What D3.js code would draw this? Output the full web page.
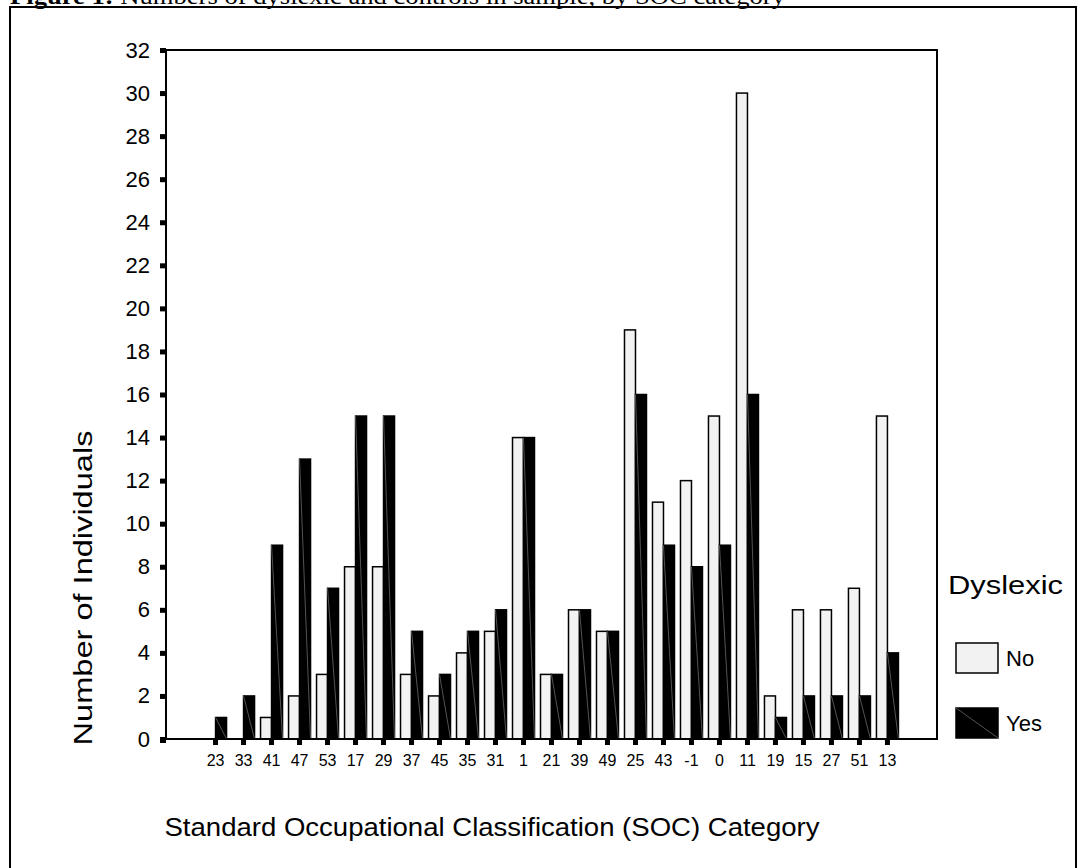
<!DOCTYPE html>
<meta charset="utf-8">
<style>
  body { margin: 0; background: #fff; }
  text { font-family: Arial, "Liberation Sans", sans-serif; fill: #000; }
</style>
<script src="https://d3js.org/d3.v7.min.js"></script>
<div id="my_dataviz"></div>
<script>
// data
var categories = ["23","33","41","47","53","17","29","37","45","35","31","1","21","39","49","25","43","-1","0","11","19","15","27","51","13"];
var noCounts  = [0,0,1,2,3,8,8,3,2,4,5,14,3,6,5,19,11,12,15,30,2,6,6,7,15];
var yesCounts = [1,2,9,13,7,15,15,5,3,5,6,14,3,6,5,16,9,8,9,16,1,2,2,2,4];
var yTicks = d3.range(0, 33, 2);
var seriesNames = ["No", "Yes"];

var W = 1080, H = 868;
var margin = {top: 50, left: 166},
    width = 771,
    height = 689;

var svg = d3.select("#my_dataviz").append("svg")
    .attr("width", W).attr("height", H);

// outer frame + clipped title
svg.append("rect")
    .attr("x", 10).attr("y", 7).attr("width", 1066).attr("height", 880)
    .attr("fill", "none").attr("stroke", "#000").attr("stroke-width", 2);

var title = svg.append("text")
    .attr("x", 10).attr("y", 4)
    .attr("textLength", 775).attr("lengthAdjust", "spacingAndGlyphs")
    .style("font-family", "'Liberation Serif', 'Times New Roman', serif")
    .style("font-size", "24px");
title.append("tspan").style("font-weight", "bold").text("Figure 1:");
title.append("tspan").text(" Numbers of dyslexic and controls in sample, by SOC category");

var g = svg.append("g")
    .attr("transform", "translate(" + margin.left + "," + margin.top + ")");

var x = d3.scaleBand()
    .domain(categories)
    .range([0, width])
    .paddingInner(0)
    .paddingOuter(1.27);

var y = d3.scaleLinear()
    .domain([0, 32])
    .range([height, 0]);

var barW = 11;

var rows = categories.map(function(c, i) {
  return {cat: c, no: noCounts[i], yes: yesCounts[i]};
});

// No bars
g.selectAll(".barNo").data(rows).enter().append("rect")
    .attr("class", "barNo")
    .attr("x", function(d) { return x(d.cat) + x.bandwidth() / 2 - barW; })
    .attr("y", function(d) { return y(d.no); })
    .attr("width", barW)
    .attr("height", function(d) { return height - y(d.no); })
    .attr("fill", "#f2f2f2")
    .attr("stroke", "#000").attr("stroke-width", 1.5);

// Yes bars
g.selectAll(".barYes").data(rows).enter().append("rect")
    .attr("class", "barYes")
    .attr("x", function(d) { return x(d.cat) + x.bandwidth() / 2; })
    .attr("y", function(d) { return y(d.yes); })
    .attr("width", barW)
    .attr("height", function(d) { return height - y(d.yes); })
    .attr("fill", "#000")
    .attr("stroke", "#000").attr("stroke-width", 1.5);

// the faint diagonal of the fill pattern
g.selectAll(".diag").data(rows).enter().append("line")
    .attr("class", "diag")
    .attr("x1", function(d) { return x(d.cat) + x.bandwidth() / 2; })
    .attr("y1", function(d) { return y(d.yes); })
    .attr("x2", function(d) { return x(d.cat) + x.bandwidth() / 2 + barW; })
    .attr("y2", height)
    .attr("stroke", "#777").attr("stroke-width", 0.7);

// plot box
g.append("rect")
    .attr("width", width).attr("height", height)
    .attr("fill", "none").attr("stroke", "#000").attr("stroke-width", 2);

// y axis: square tick marks + labels
var yAxis = d3.axisLeft(y).tickValues(yTicks).tickSize(0).tickPadding(16);
var ya = g.append("g").call(yAxis);
ya.select(".domain").remove();
ya.selectAll("text").style("font-size", "22px").style("font-family", "Arial, 'Liberation Sans', sans-serif");
ya.selectAll(".tick").append("rect")
    .attr("x", -6).attr("y", -2.5).attr("width", 6).attr("height", 5).attr("fill", "#000");

// x axis
var xAxis = d3.axisBottom(x).tickSize(0).tickPadding(16);
var xa = g.append("g").attr("transform", "translate(0," + height + ")").call(xAxis);
xa.select(".domain").remove();
xa.selectAll("text").style("font-size", "16px").style("font-family", "Arial, 'Liberation Sans', sans-serif");
xa.selectAll(".tick").append("rect")
    .attr("x", -2.5).attr("y", 0).attr("width", 5).attr("height", 6).attr("fill", "#000");
g.append("rect").attr("x", -6).attr("y", height - 2).attr("width", 6).attr("height", 6).attr("fill", "#000");

// axis titles
svg.append("text")
    .attr("transform", "translate(92,588) rotate(-90)")
    .attr("text-anchor", "middle")
    .attr("textLength", 315).attr("lengthAdjust", "spacingAndGlyphs")
    .style("font-size", "25px")
    .text("Number of Individuals");

svg.append("text")
    .attr("x", 492).attr("y", 836)
    .attr("text-anchor", "middle")
    .attr("textLength", 655).attr("lengthAdjust", "spacingAndGlyphs")
    .style("font-size", "25px")
    .text("Standard Occupational Classification (SOC) Category");

// legend
svg.append("text")
    .attr("x", 948).attr("y", 594)
    .attr("textLength", 115).attr("lengthAdjust", "spacingAndGlyphs")
    .style("font-size", "26px")
    .text("Dyslexic");

var legY = [643, 708];
var leg = svg.selectAll(".leg").data(seriesNames).enter().append("g")
    .attr("class", "leg")
    .attr("transform", function(d, i) { return "translate(956," + legY[i] + ")"; });
leg.append("rect")
    .attr("width", 42).attr("height", 30)
    .attr("fill", function(d, i) { return i === 0 ? "#f2f2f2" : "#000"; })
    .attr("stroke", "#000").attr("stroke-width", 1.5);
leg.filter(function(d, i) { return i === 1; }).append("line")
    .attr("x1", 0).attr("y1", 0).attr("x2", 42).attr("y2", 30)
    .attr("stroke", "#777").attr("stroke-width", 0.7);
leg.append("text")
    .attr("x", 50).attr("y", 23)
    .style("font-size", "22px")
    .text(function(d) { return d; });
</script>
